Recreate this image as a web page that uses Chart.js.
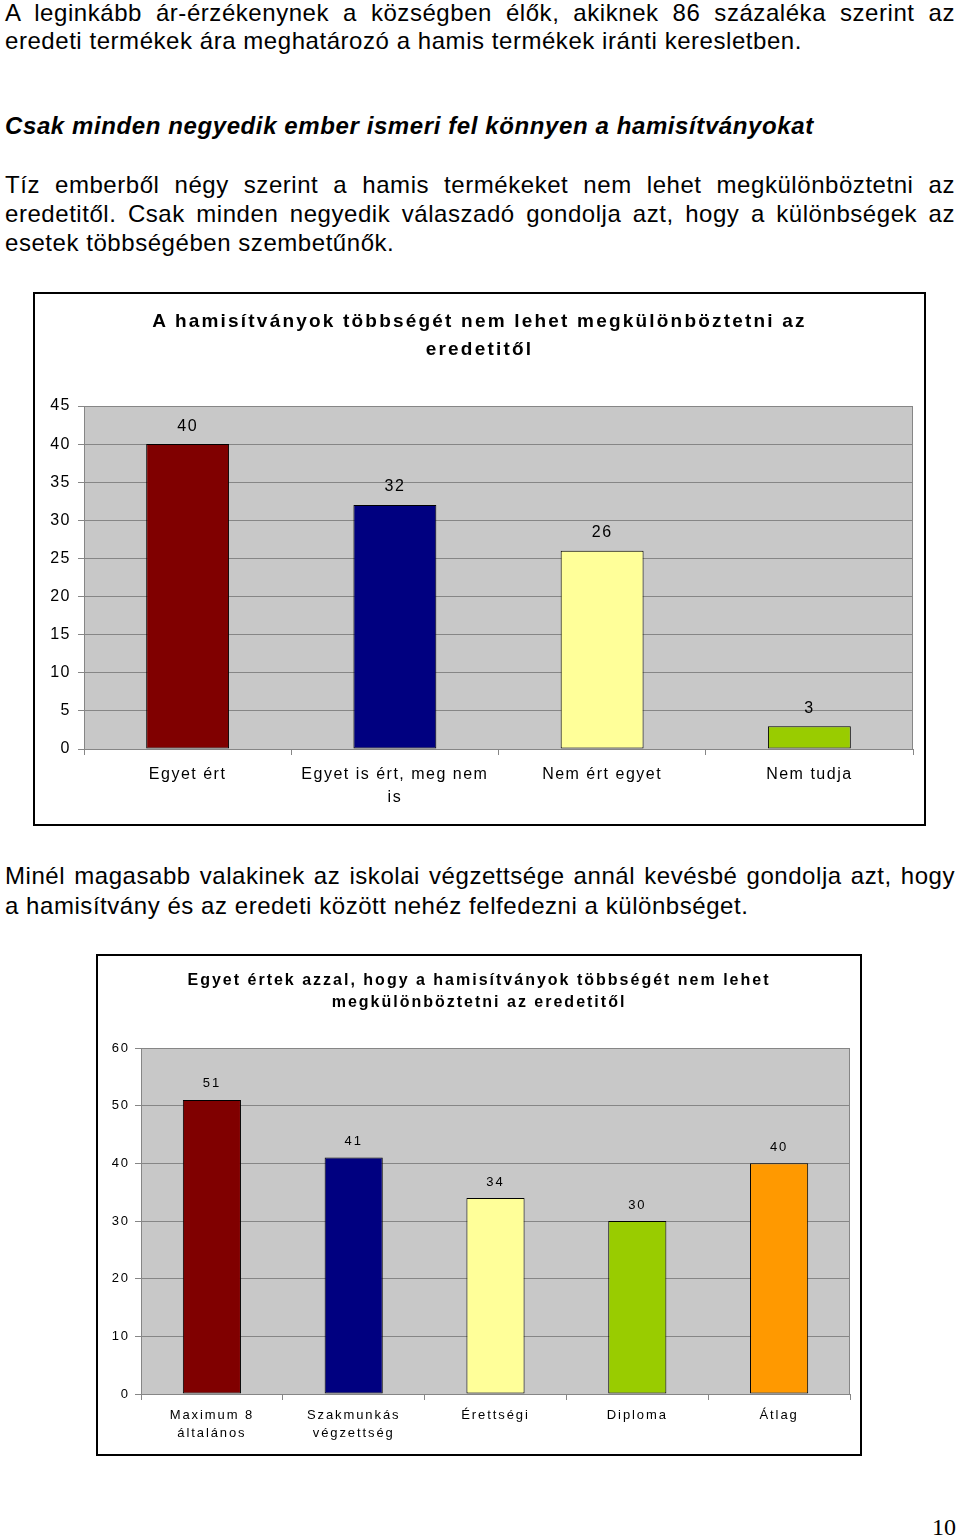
<!DOCTYPE html>
<html lang="hu">
<head>
<meta charset="utf-8">
<title>Hamisítványok</title>
<script src="https://cdn.jsdelivr.net/npm/chart.js@4/dist/chart.umd.min.js"></script>
<style>
  html, body { margin: 0; padding: 0; background: #fff; }
  body { position: relative; width: 960px; height: 1537px; overflow: hidden;
         font-family: "Liberation Sans", Arial, sans-serif; color: #000; }
  .ln { position: absolute; left: 5px; width: 950px; font-size: 24px; line-height: 28px; letter-spacing: 0.55px; white-space: nowrap; }
  .full { text-align: justify; text-align-last: justify; }
  .head { font-weight: bold; font-style: italic; letter-spacing: 0.6px; }
  .box { position: absolute; border: 2px solid #000; box-sizing: border-box; background: #fff; }
  .box canvas { position: absolute; left: 0; top: 0; }
  .ttl { position: absolute; left: 0; width: 100%; text-align: center; font-weight: bold; }
  #pageNo { position: absolute; right: 4px; top: 1513px; font: 24px "Liberation Serif", "Times New Roman", serif; line-height: 28px; }
</style>
</head>
<body>

<div class="ln full" style="top:-1px">A leginkább ár-érzékenynek a községben élők, akiknek 86 százaléka szerint az</div>
<div class="ln" style="top:27px">eredeti termékek ára meghatározó a hamis termékek iránti keresletben.</div>

<div class="ln head" style="top:112px">Csak minden negyedik ember ismeri fel könnyen a hamisítványokat</div>

<div class="ln full" style="top:171px">Tíz emberből négy szerint a hamis termékeket nem lehet megkülönböztetni az</div>
<div class="ln full" style="top:200px">eredetitől. Csak minden negyedik válaszadó gondolja azt, hogy a különbségek az</div>
<div class="ln" style="top:229px">esetek többségében szembetűnők.</div>

<div class="box" style="left:33px; top:292px; width:893px; height:534px;">
  <canvas id="chart1" width="889" height="530"></canvas>
  <div class="ttl" style="top:13px; font-size:19px; line-height:28px; letter-spacing:2.2px;">A hamisítványok többségét nem lehet megkülönböztetni az<br>eredetitől</div>
</div>

<div class="ln full" style="top:862px">Minél magasabb valakinek az iskolai végzettsége annál kevésbé gondolja azt, hogy</div>
<div class="ln" style="top:892px">a hamisítvány és az eredeti között nehéz felfedezni a különbséget.</div>

<div class="box" style="left:96px; top:954px; width:766px; height:502px;">
  <canvas id="chart2" width="762" height="498"></canvas>
  <div class="ttl" style="top:13px; font-size:16px; line-height:22px; letter-spacing:2px;">Egyet értek azzal, hogy a hamisítványok többségét nem lehet<br>megkülönböztetni az eredetitől</div>
</div>

<div id="pageNo">10</div>

<script>
// data of chart 1
const categories1 = ["Egyet ért", ["Egyet is ért, meg nem", "is"], "Nem ért egyet", "Nem tudja"];
const values1 = [40, 32, 26, 3];
const yMax1 = 45;
const yStep1 = 5;

// data of chart 2
const categories2 = [["Maximum 8", "általános"], ["Szakmunkás", "végzettség"], "Érettségi", "Diploma", "Átlag"];
const values2 = [51, 41, 34, 30, 40];
const yMax2 = 60;
const yStep2 = 10;

// excel-ish palette
const palette = ["#800000", "#000080", "#FFFF99", "#99CC00", "#FF9900"];
const plotGray = "#c8c8c8";
const lineGray = "#868686";

// gray plot area + frame, letter spacing, value labels
const plotStyle = {
  id: "plotStyle",
  beforeUpdate(chart, args, opts) {
    chart.ctx.letterSpacing = opts.spacing + "px";
  },
  beforeDraw(chart, args, opts) {
    const { ctx, chartArea: a } = chart;
    ctx.letterSpacing = opts.spacing + "px";
    ctx.save();
    ctx.fillStyle = plotGray;
    ctx.fillRect(a.left, a.top, a.right - a.left, a.bottom - a.top);
    ctx.restore();
  },
  beforeDatasetsDraw(chart) {
    const { ctx, chartArea: a } = chart;
    ctx.save();
    ctx.strokeStyle = lineGray;
    ctx.lineWidth = 1;
    ctx.strokeRect(a.left + 0.5, a.top + 0.5, a.right - a.left - 1, a.bottom - a.top);
    ctx.restore();
  },
  afterDatasetsDraw(chart, args, opts) {
    const { ctx } = chart;
    const ds = chart.data.datasets[0];
    ctx.save();
    ctx.fillStyle = "#000";
    ctx.font = opts.labelSize + "px 'Liberation Sans', Arial, sans-serif";
    ctx.textAlign = "center";
    ctx.textBaseline = "middle";
    chart.getDatasetMeta(0).data.forEach((bar, i) => {
      ctx.fillText(String(ds.data[i]), bar.x, bar.y - opts.labelGap);
    });
    ctx.restore();
  }
};

function makeChart(id, cats, vals, cfg) {
  return new Chart(document.getElementById(id), {
    type: "bar",
    data: {
      labels: cats,
      datasets: [{
        data: vals,
        backgroundColor: palette.slice(0, vals.length),
        borderColor: "#000",
        borderWidth: 1,
        borderSkipped: false,
        barPercentage: cfg.barPct,
        categoryPercentage: 1
      }]
    },
    plugins: [plotStyle],
    options: {
      responsive: false,
      animation: false,
      devicePixelRatio: 1,
      layout: { padding: { top: cfg.top, right: cfg.right, left: 0, bottom: 0 } },
      plugins: {
        legend: { display: false },
        title: { display: false },
        tooltip: { enabled: false },
        plotStyle: { spacing: cfg.spacing, labelSize: cfg.font, labelGap: cfg.labelGap }
      },
      scales: {
        x: {
          offset: true,
          grid: { display: true, drawOnChartArea: false, drawTicks: true, tickLength: 6, color: lineGray, offset: true },
          border: { display: true, color: lineGray },
          ticks: {
            color: "#000", maxRotation: 0, autoSkip: false, padding: cfg.xPad,
            font: { family: "'Liberation Sans', Arial, sans-serif", size: cfg.font, lineHeight: cfg.xLine }
          },
          afterFit(scale) { scale.height = cfg.xHeight; }
        },
        y: {
          min: 0, max: cfg.yMax,
          grid: { color: lineGray, tickLength: 6, drawTicks: true },
          border: { display: true, color: lineGray },
          ticks: {
            stepSize: cfg.yStep, color: "#000", padding: cfg.yPad,
            font: { family: "'Liberation Sans', Arial, sans-serif", size: cfg.font }
          },
          afterFit(scale) { scale.width = cfg.yWidth; }
        }
      }
    }
  });
}

makeChart("chart1", categories1, values1, {
  yMax: yMax1, yStep: yStep1, barPct: 0.4, top: 112, right: 11,
  yWidth: 49, xHeight: 75, font: 16, xLine: 23 / 16, xPad: 8, yPad: 7,
  spacing: 1.5, labelGap: 18
});

makeChart("chart2", categories2, values2, {
  yMax: yMax2, yStep: yStep2, barPct: 0.41, top: 92, right: 10,
  yWidth: 43, xHeight: 60, font: 13, xLine: 18 / 13, xPad: 6, yPad: 5,
  spacing: 1.9, labelGap: 16
});
</script>
</body>
</html>
